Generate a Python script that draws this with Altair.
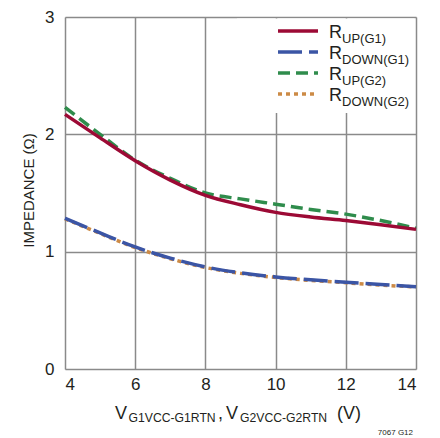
import altair as alt
import pandas as pd

# Data
vin = [4, 5, 6, 7, 8, 9, 10, 11, 12, 13, 14]
r_up_g1 = [2.17, 1.97, 1.775, 1.61, 1.48, 1.40, 1.335, 1.295, 1.265, 1.23, 1.19]
r_down_g1 = [1.285, 1.16, 1.04, 0.945, 0.87, 0.82, 0.785, 0.76, 0.74, 0.72, 0.70]
r_up_g2 = [2.23, 2.00, 1.78, 1.625, 1.50, 1.45, 1.405, 1.36, 1.32, 1.265, 1.20]
r_down_g2 = [1.28, 1.155, 1.035, 0.94, 0.865, 0.815, 0.78, 0.755, 0.735, 0.715, 0.70]

x_ticks = [4, 6, 8, 10, 12, 14]
y_ticks = [0, 1, 2, 3]

FONT = "Liberation Sans, Arial, Helvetica"
TXT = "#231f20"
W, H = 351, 352

series = [
    ("DOWN(G2)", r_down_g2, "#cc8a45", [4, 4]),
    ("UP(G2)", r_up_g2, "#2f8c4c", [12, 6]),
    ("DOWN(G1)", r_down_g1, "#3b55a5", [24, 7]),
    ("UP(G1)", r_up_g1, "#9c0a35", None),
]

xs = alt.X("v:Q", scale=alt.Scale(domain=[4, 14], nice=False),
           axis=alt.Axis(values=x_ticks, grid=True, ticks=False, domain=False,
                         labelFontSize=17, labelPadding=7, labelFont=FONT,
                         labelColor=TXT, gridColor="#8a8a8a", gridWidth=1.5,
                         title=None))
ys = alt.Y("r:Q", scale=alt.Scale(domain=[0, 3], nice=False),
           axis=alt.Axis(values=y_ticks, grid=True, ticks=False, domain=False,
                         labelFontSize=17, labelPadding=11, labelFont=FONT,
                         labelColor=TXT, gridColor="#8a8a8a", gridWidth=1.5,
                         title="IMPEDANCE (Ω)", titleFont=FONT, titleFontSize=15,
                         titleFontWeight="normal", titleColor=TXT,
                         titleX=-36.5, titleY=173, titleBaseline="middle"))

one = pd.DataFrame({"a": [0]})

layers = []
# white legend background
layers.append(alt.Chart(one).mark_rect(color="white").encode(
    x=alt.value(172), x2=alt.value(W - 1.5), y=alt.value(1.5), y2=alt.value(96)))

for name, vals, color, dash in series:
    df = pd.DataFrame({"v": vin, "r": vals})
    kw = dict(color=color, strokeWidth=3.5, interpolate="monotone")
    if dash:
        kw["strokeDash"] = dash
    layers.append(alt.Chart(df).mark_line(**kw).encode(x=xs, y=ys))

# manual legend (subscripted labels)
legend_order = ["UP(G1)", "DOWN(G1)", "UP(G2)", "DOWN(G2)"]
style = {s[0]: (s[2], s[3]) for s in series}
for i, name in enumerate(legend_order):
    color, dash = style[name]
    yy = 14 + 21 * i
    kw = dict(color=color, strokeWidth=3.5)
    if dash:
        kw["strokeDash"] = dash
    layers.append(alt.Chart(one).mark_rule(**kw).encode(
        x=alt.value(213), x2=alt.value(253), y=alt.value(yy)))
    layers.append(alt.Chart(one).mark_text(
        text="R", font=FONT, fontSize=18, align="left", baseline="alphabetic",
        color=TXT).encode(x=alt.value(264), y=alt.value(yy + 6.5)))
    layers.append(alt.Chart(one).mark_text(
        text=name, font=FONT, fontSize=13, align="left", baseline="alphabetic",
        color=TXT).encode(x=alt.value(277), y=alt.value(yy + 12)))

# x axis title with subscripts
pieces = [
    ("V", 50, 402, 18),
    ("G1VCC-G1RTN", 63.5, 405, 12.2),
    (",", 153, 402, 18),
    ("V", 161, 402, 18),
    ("G2VCC-G2RTN", 175, 405, 12.2),
    ("(V)", 272, 402, 18),
]
for txt, px, py, fs in pieces:
    layers.append(alt.Chart(one).mark_text(
        text=txt, font=FONT, fontSize=fs, align="left", baseline="alphabetic",
        color=TXT).encode(x=alt.value(px), y=alt.value(py)))

layers.append(alt.Chart(one).mark_text(
    text="7067 G12", font=FONT, fontSize=8, align="right", baseline="alphabetic",
    color=TXT).encode(x=alt.value(348), y=alt.value(418)))

chart = alt.layer(*layers).properties(
    width=W, height=H,
    autosize=alt.AutoSizeParams(type="none"),
    padding={"left": 57, "top": 9, "right": 16, "bottom": 69},
).configure_view(stroke="black", strokeWidth=2).configure(background="white")

chart.save("out.html", embed_options={"renderer": "svg", "actions": False})
